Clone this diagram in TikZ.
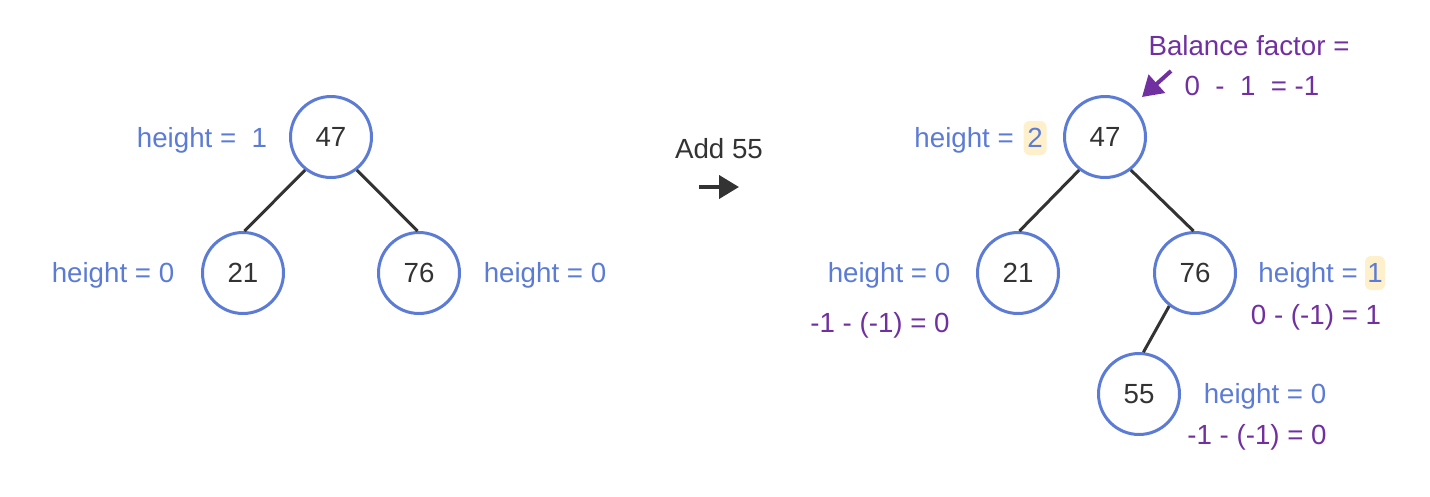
\documentclass[tikz,border=0pt]{standalone}
\usepackage{fontspec}
\setmainfont{Liberation Sans}
\usetikzlibrary{arrows.meta}
\definecolor{nodeblue}{HTML}{5B7BD5}
\definecolor{txtblue}{HTML}{5B7BD5}
\definecolor{bfpurple}{HTML}{7030A0}
\definecolor{hl}{HTML}{FFF0CC}
\definecolor{dark}{HTML}{333333}
\begin{document}
\begin{tikzpicture}[x=1pt,y=-1pt,font=\fontsize{27.7}{33}\selectfont,
  treenode/.style={circle,draw=nodeblue,line width=3pt,minimum size=81pt,inner sep=0pt,text=dark},
  edge/.style={draw=dark,line width=3pt},
  htxt/.style={text=txtblue,inner sep=0pt},
  ptxt/.style={text=bfpurple,inner sep=0pt},
  hlbox/.style={fill=hl,rounded corners=6pt,text=txtblue,inner sep=0pt,minimum width=23pt,minimum height=34pt}]
\useasboundingbox (0,0) rectangle (1430,496);
% left tree
\node[treenode] (l47) at (331,137) {47};
\node[treenode] (l21) at (243,273) {21};
\node[treenode] (l76) at (419,273) {76};
\draw[edge] (l47.232) -- (l21.88);
\draw[edge] (l47.308) -- (l76.92);
\node[htxt] (lh47) at (202,140) {height =\ \ 1};
\node[htxt] (lh21) at (113,275) {height = 0};
\node[htxt] (lh76) at (545,275) {height = 0};
% add arrow
\node[text=dark,inner sep=0pt] (add) at (719,149) {Add 55};
\coordinate (a1) at (699,187);
\coordinate (a2) at (739,187);
\draw[dark,line width=4pt,-{Triangle[length=20pt,width=23pt]}] (a1) -- (a2);
% right tree
\node[treenode] (r47) at (1105,137) {47};
\node[treenode] (r21) at (1018,273) {21};
\node[treenode] (r76) at (1195,273) {76};
\node[treenode] (r55) at (1139,394) {55};
\draw[edge] (r47.232) -- (r21.88);
\draw[edge] (r47.308) -- (r76.92);
\draw[edge] (r76.232) -- (r55.84);
% labels right
\node[htxt,anchor=east] (rh47) at (1014,140) {height =};
\node[hlbox] (rh47v) at (1035,138) {2};
\node[ptxt] (bf1) at (1249,46) {Balance factor =};
\node[ptxt] (bf2) at (1252,86) {0\ \ -\ \ 1\ \ = -1};
\coordinate (p1) at (1171,71);
\coordinate (p2) at (1142,97);
\draw[bfpurple,line width=4pt,-{Triangle[length=20pt,width=24pt]}] (p1) -- (p2);
\node[htxt] (rh21) at (889,275) {height = 0};
\node[ptxt] (rb21) at (880,325) {-1 - (-1) = 0};
\node[htxt,anchor=east] (rh76) at (1358,275) {height =};
\node[hlbox,minimum width=20pt] (rh76v) at (1375,273) {1};
\node[ptxt] (rb76) at (1316,317) {0 - (-1) = 1};
\node[htxt] (rh55) at (1265,396) {height = 0};
\node[ptxt] (rb55) at (1257,437) {-1 - (-1) = 0};
\end{tikzpicture}
\end{document}
